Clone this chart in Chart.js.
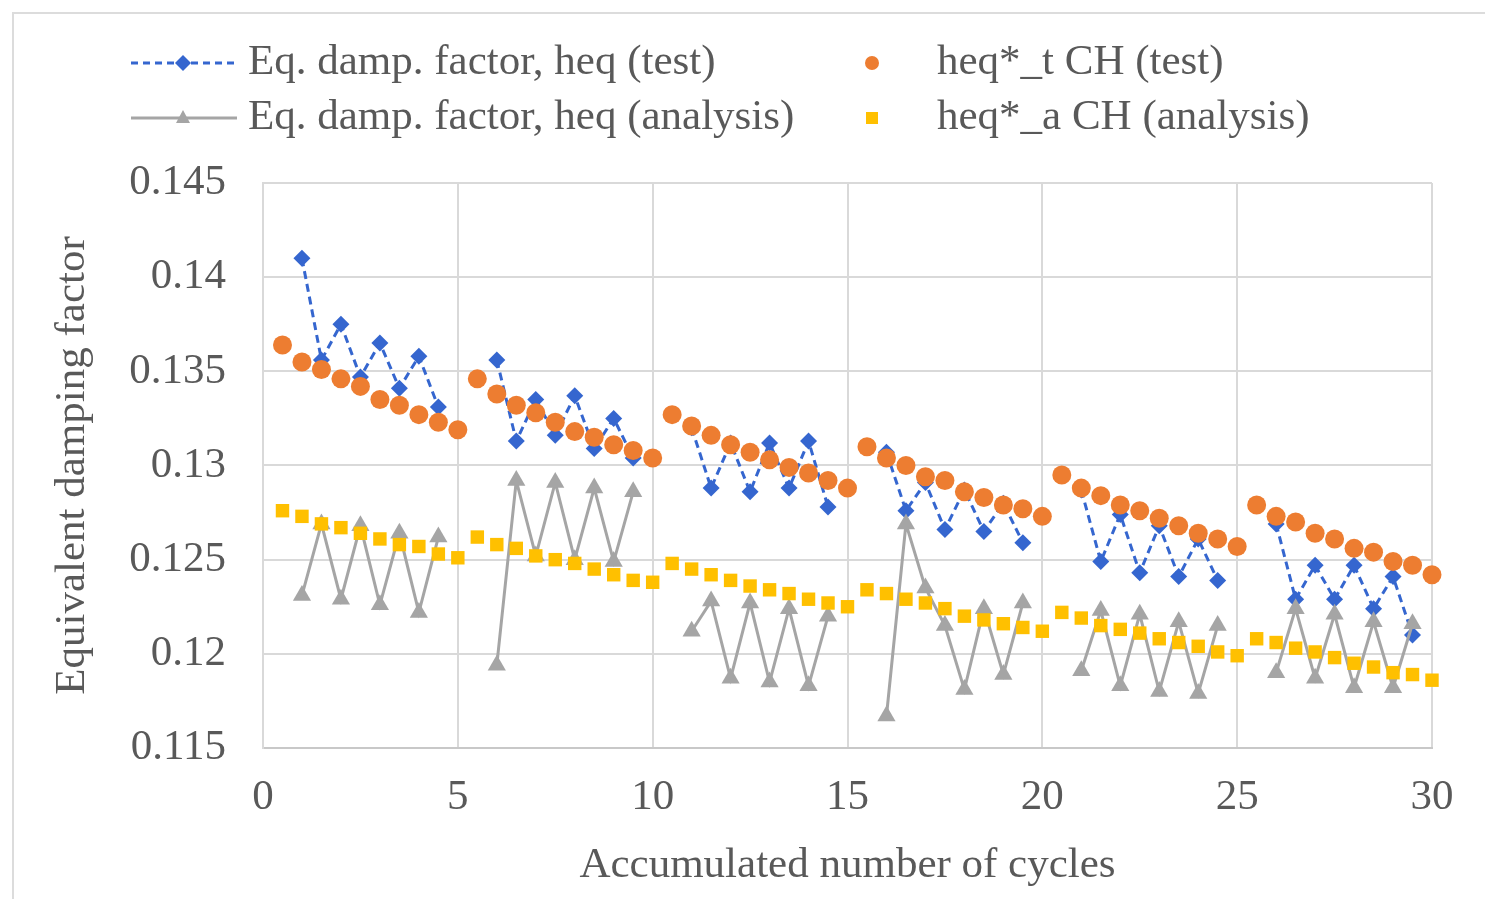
<!DOCTYPE html>
<html>
<head>
<meta charset="utf-8">
<script src="https://cdn.jsdelivr.net/npm/chart.js@4.4.1/dist/chart.umd.min.js"></script>
<style>
  html, body { margin: 0; padding: 0; background: #fff; }
  #wrap { width: 1485px; height: 899px; }
</style>
</head>
<body>
<div id="wrap"><canvas id="chart" width="1485" height="899"></canvas></div>
<script>
// accumulated number of cycles (x positions)
const cycles = [
  0.5, 1, 1.5, 2, 2.5, 3, 3.5, 4, 4.5, 5,
  5.5, 6, 6.5, 7, 7.5, 8, 8.5, 9, 9.5, 10,
  10.5, 11, 11.5, 12, 12.5, 13, 13.5, 14, 14.5, 15,
  15.5, 16, 16.5, 17, 17.5, 18, 18.5, 19, 19.5, 20,
  20.5, 21, 21.5, 22, 22.5, 23, 23.5, 24, 24.5, 25,
  25.5, 26, 26.5, 27, 27.5, 28, 28.5, 29, 29.5, 30
];

// Eq. damp. factor, heq (test)
const heqTest = [
  null, 0.1410, 0.1356, 0.1375, 0.1347, 0.1365, 0.1341, 0.1358, 0.1331, null,
  null, 0.1356, 0.1313, 0.1335, 0.1316, 0.1337, 0.1309, 0.1325, 0.1304, null,
  null, 0.1320, 0.1288, 0.1312, 0.1286, 0.1312, 0.1288, 0.1313, 0.1278, null,
  null, 0.1307, 0.1276, 0.1291, 0.1266, 0.1287, 0.1265, 0.1280, 0.1259, null,
  null, 0.1287, 0.1249, 0.1274, 0.1243, 0.1268, 0.1241, 0.1261, 0.1239, null,
  null, 0.1269, 0.1229, 0.1247, 0.1229, 0.1247, 0.1224, 0.1241, 0.1210, null
];

// Eq. damp. factor, heq (analysis)
const heqAnalysis = [
  null, 0.1231, 0.1269, 0.1229, 0.1268, 0.1226, 0.1264, 0.1222, 0.1262, null,
  null, 0.1194, 0.1292, 0.1252, 0.1291, 0.1250, 0.1288, 0.1249, 0.1286, null,
  null, 0.1212, 0.1228, 0.1187, 0.1227, 0.1185, 0.1224, 0.1183, 0.1220, null,
  null, 0.1167, 0.1269, 0.1235, 0.1215, 0.1181, 0.1224, 0.1189, 0.1227, null,
  null, 0.1191, 0.1223, 0.1183, 0.1221, 0.1180, 0.1217, 0.1179, 0.1215, null,
  null, 0.1190, 0.1224, 0.1187, 0.1221, 0.1182, 0.1217, 0.1182, 0.1216, null
];

// heq*_t CH (test)
const heqStarTest = [
  0.1364, 0.1355, 0.1351, 0.1346, 0.1342, 0.1335, 0.1332, 0.1327, 0.1323, 0.1319,
  0.1346, 0.1338, 0.1332, 0.1328, 0.1323, 0.1318, 0.1315, 0.1311, 0.1308, 0.1304,
  0.1327, 0.1321, 0.1316, 0.1311, 0.1307, 0.1303, 0.1299, 0.1296, 0.1292, 0.1288,
  0.1310, 0.1304, 0.1300, 0.1294, 0.1292, 0.1286, 0.1283, 0.1279, 0.1277, 0.1273,
  0.1295, 0.1288, 0.1284, 0.1279, 0.1276, 0.1272, 0.1268, 0.1264, 0.1261, 0.1257,
  0.1279, 0.1273, 0.1270, 0.1264, 0.1261, 0.1256, 0.1254, 0.1249, 0.1247, 0.1242
];

// heq*_a CH (analysis)
const heqStarAnalysis = [
  0.1276, 0.1273, 0.1269, 0.1267, 0.1264, 0.1261, 0.1258, 0.1257, 0.1253, 0.1251,
  0.1262, 0.1258, 0.1256, 0.1252, 0.1250, 0.1248, 0.1245, 0.1242, 0.1239, 0.1238,
  0.1248, 0.1245, 0.1242, 0.1239, 0.1236, 0.1234, 0.1232, 0.1229, 0.1227, 0.1225,
  0.1234, 0.1232, 0.1229, 0.1227, 0.1224, 0.1220, 0.1218, 0.1216, 0.1214, 0.1212,
  0.1222, 0.1219, 0.1215, 0.1213, 0.1211, 0.1208, 0.1206, 0.1204, 0.1201, 0.1199,
  0.1208, 0.1206, 0.1203, 0.1201, 0.1198, 0.1195, 0.1193, 0.1190, 0.1189, 0.1186
];

const seriesNames = [
  'Eq. damp. factor, heq (test)',
  'Eq. damp. factor, heq (analysis)',
  'heq*_t CH (test)',
  'heq*_a CH (analysis)'
];

const xTitle = 'Accumulated number of cycles';
const yTitle = 'Equivalent damping factor';

const FONT = "'Liberation Serif', 'Times New Roman', serif";
const TEXT = '#595959';
const BLUE = '#3566cf';
const ORANGE = '#ed7d31';
const GRAY = '#a5a5a5';
const GOLD = '#ffc000';

const pts = arr => cycles.map((x, i) => ({ x: x, y: arr[i] }));

// custom two-column legend + outer frame
const legendPlugin = {
  id: 'twoColLegend',
  beforeDraw(chart) {
    const ctx = chart.ctx;
    ctx.save();
    ctx.fillStyle = '#fff';
    ctx.fillRect(0, 0, chart.width, chart.height);
    ctx.strokeStyle = '#dcdcdc';
    ctx.lineWidth = 2;
    ctx.strokeRect(13, 13, chart.width + 20, chart.height + 20);
    ctx.restore();
  },
  afterDraw(chart) {
    const ctx = chart.ctx;
    ctx.save();
    ctx.font = '43px ' + FONT;
    ctx.fillStyle = TEXT;
    ctx.textBaseline = 'middle';
    ctx.textAlign = 'left';

    const row1 = 63, row2 = 118;

    // blue dashed + diamond
    ctx.strokeStyle = BLUE;
    ctx.lineWidth = 3;
    ctx.setLineDash([7, 5]);
    ctx.beginPath(); ctx.moveTo(131, row1); ctx.lineTo(237, row1); ctx.stroke();
    ctx.setLineDash([]);
    ctx.fillStyle = BLUE;
    ctx.beginPath();
    ctx.moveTo(183, row1 - 8); ctx.lineTo(191, row1); ctx.lineTo(183, row1 + 8); ctx.lineTo(175, row1);
    ctx.closePath(); ctx.fill();

    // gray solid + triangle
    ctx.strokeStyle = GRAY;
    ctx.beginPath(); ctx.moveTo(131, row2); ctx.lineTo(237, row2); ctx.stroke();
    ctx.fillStyle = GRAY;
    ctx.beginPath();
    ctx.moveTo(183, row2 - 8); ctx.lineTo(190, row2 + 5); ctx.lineTo(176, row2 + 5);
    ctx.closePath(); ctx.fill();

    // orange circle
    ctx.fillStyle = ORANGE;
    ctx.beginPath(); ctx.arc(872, row1, 7, 0, Math.PI * 2); ctx.fill();

    // gold square
    ctx.fillStyle = GOLD;
    ctx.fillRect(866, row2 - 6, 12, 12);

    ctx.fillStyle = TEXT;
    ctx.fillText(seriesNames[0], 248, row1);
    ctx.fillText(seriesNames[1], 248, row2);
    ctx.fillText(seriesNames[2], 937, row1);
    ctx.fillText(seriesNames[3], 937, row2);
    ctx.restore();
  }
};

new Chart(document.getElementById('chart'), {
  type: 'line',
  data: {
    datasets: [
      {
        label: seriesNames[0],
        data: pts(heqTest),
        borderColor: BLUE,
        backgroundColor: BLUE,
        borderWidth: 3,
        borderDash: [8, 5],
        pointStyle: 'rectRot',
        pointRadius: 8.5,
        pointBorderWidth: 0,
        spanGaps: false,
        clip: false,
        order: 4
      },
      {
        label: seriesNames[1],
        data: pts(heqAnalysis),
        borderColor: GRAY,
        backgroundColor: GRAY,
        borderWidth: 3,
        pointStyle: 'triangle',
        pointRadius: 10.5,
        pointBorderWidth: 0,
        spanGaps: false,
        clip: false,
        order: 3
      },
      {
        label: seriesNames[2],
        data: pts(heqStarTest),
        showLine: false,
        borderColor: ORANGE,
        backgroundColor: ORANGE,
        pointStyle: 'circle',
        pointRadius: 9.5,
        pointBorderWidth: 0,
        clip: false,
        order: 2
      },
      {
        label: seriesNames[3],
        data: pts(heqStarAnalysis),
        showLine: false,
        borderColor: GOLD,
        backgroundColor: GOLD,
        pointStyle: 'rect',
        pointRadius: 9.5,
        pointBorderWidth: 0,
        clip: false,
        order: 1
      }
    ]
  },
  options: {
    responsive: false,
    animation: false,
    layout: { padding: { left: 0, top: 183, right: 53, bottom: 0 } },
    plugins: {
      legend: { display: false },
      tooltip: { enabled: false }
    },
    scales: {
      x: {
        type: 'linear',
        min: 0,
        max: 30,
        afterFit: s => { s.height = 151; },
        ticks: {
          stepSize: 5,
          padding: 24,
          color: TEXT,
          font: { family: FONT, size: 43 }
        },
        grid: { color: '#d9d9d9', lineWidth: 2, drawTicks: false },
        border: { color: '#c8c8c8', width: 2 },
        title: {
          display: true,
          text: xTitle,
          color: TEXT,
          font: { family: FONT, size: 43 },
          padding: { top: 0, bottom: 7 }
        }
      },
      y: {
        min: 0.115,
        max: 0.145,
        afterFit: s => { s.width = 263; },
        ticks: {
          stepSize: 0.005,
          padding: 37,
          color: TEXT,
          font: { family: FONT, size: 43 },
          callback: v => String(Number(v.toFixed(3)))
        },
        grid: { color: '#d9d9d9', lineWidth: 2, drawTicks: false },
        border: { color: '#d9d9d9', width: 2 },
        title: {
          display: true,
          text: yTitle,
          color: TEXT,
          font: { family: FONT, size: 43 },
          padding: { top: 47, bottom: 0 }
        }
      }
    }
  },
  plugins: [legendPlugin]
});
</script>
</body>
</html>
